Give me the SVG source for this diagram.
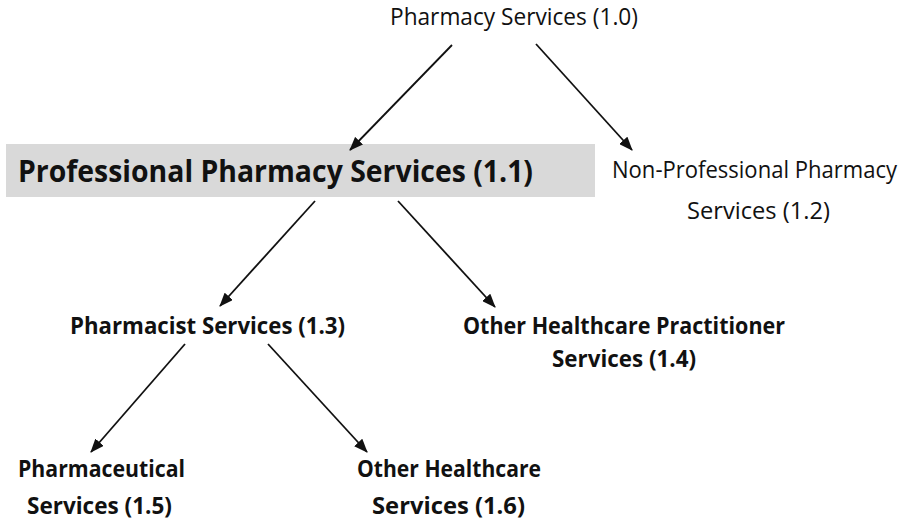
<svg xmlns="http://www.w3.org/2000/svg" width="908" height="520" viewBox="0 0 908 520">
  <defs>
    <marker id="arr" viewBox="0 0 14 11" refX="13" refY="5.5" markerWidth="14" markerHeight="11" markerUnits="userSpaceOnUse" orient="auto">
      <path d="M0,0 L14,5.5 L0,11 z" fill="#111111"/>
    </marker>
  </defs>
  <style>
    .t { font-family: "Open Sans", "Noto Sans", "Liberation Sans", sans-serif; fill: #111111; }
    .r { font-weight: normal; font-size: 23px; }
    .b { font-weight: bold; font-size: 24px; }
    .big { font-weight: bold; font-size: 30px; }
    .c line { stroke: #111111; stroke-width: 1.8; marker-end: url(#arr); }
  </style>
  <rect width="908" height="520" fill="#ffffff"/>
  <g id="n10">
    <text class="t r" x="390" y="25" textLength="248" lengthAdjust="spacingAndGlyphs">Pharmacy Services (1.0)</text>
  </g>
  <g id="n11">
    <rect x="6" y="144" width="589" height="53" fill="#d9d9d9"/>
    <text class="t big" x="18" y="182" textLength="515" lengthAdjust="spacingAndGlyphs">Professional Pharmacy Services (1.1)</text>
  </g>
  <g id="n12">
    <text class="t r" x="612" y="178" textLength="285" lengthAdjust="spacingAndGlyphs">Non-Professional Pharmacy</text>
    <text class="t r" x="687" y="219" textLength="143" lengthAdjust="spacingAndGlyphs">Services (1.2)</text>
  </g>
  <g id="n13">
    <text class="t b" x="70" y="334" textLength="275" lengthAdjust="spacingAndGlyphs">Pharmacist Services (1.3)</text>
  </g>
  <g id="n14">
    <text class="t b" x="463" y="334" textLength="322" lengthAdjust="spacingAndGlyphs">Other Healthcare Practitioner</text>
    <text class="t b" x="552" y="367" textLength="144" lengthAdjust="spacingAndGlyphs">Services (1.4)</text>
  </g>
  <g id="n15">
    <text class="t b" x="18" y="477" textLength="167" lengthAdjust="spacingAndGlyphs">Pharmaceutical</text>
    <text class="t b" x="27" y="514" textLength="145" lengthAdjust="spacingAndGlyphs">Services (1.5)</text>
  </g>
  <g id="n16">
    <text class="t b" x="357" y="477" textLength="184" lengthAdjust="spacingAndGlyphs">Other Healthcare</text>
    <text class="t b" x="372" y="514" textLength="153" lengthAdjust="spacingAndGlyphs">Services (1.6)</text>
  </g>
  <g id="connectors" class="c">
    <line x1="452" y1="45" x2="350" y2="150"/>
    <line x1="536" y1="44" x2="632" y2="150"/>
    <line x1="315" y1="201" x2="220" y2="306"/>
    <line x1="398" y1="201" x2="495" y2="307"/>
    <line x1="185" y1="344" x2="91" y2="452"/>
    <line x1="268" y1="344" x2="367" y2="452"/>
  </g>
</svg>
